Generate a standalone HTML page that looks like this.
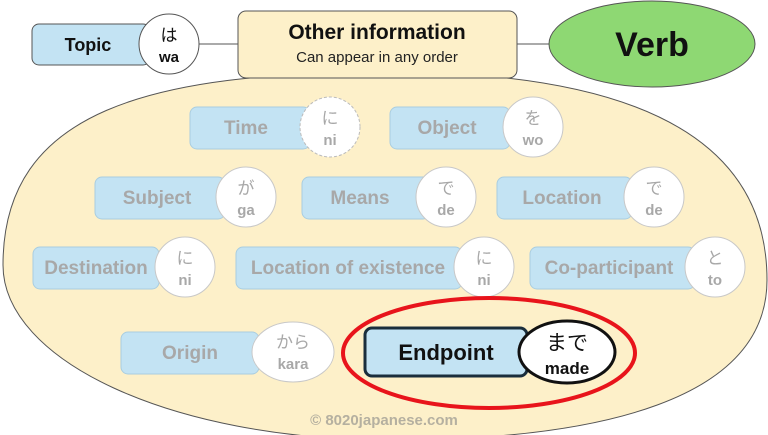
<!DOCTYPE html>
<html><head><meta charset="utf-8"><style>
html,body{margin:0;padding:0;background:#fff;}
svg{display:block;}
text{font-family:"Liberation Sans","Noto Sans CJK JP",sans-serif;text-anchor:middle;}
.b{fill:#c3e3f3;stroke:#a9cde0;stroke-width:1;}
.bt{fill:#a8a8a8;font-weight:bold;font-size:19px;}
.c{fill:#fff;stroke:#c8c8c8;stroke-width:1;}
.cj{fill:#a8a8a8;font-size:17px;}
.cr{fill:#a8a8a8;font-size:15px;font-weight:bold;}
</style></head><body>
<svg width="768" height="435" viewBox="0 0 768 435" xmlns="http://www.w3.org/2000/svg">
<path d="M3,265 C3,110 150,72 390,72 C620,72 767,130 767,280 C767,400 600,440 390,440 C170,440 3,360 3,265 Z" fill="#fdf0c9" stroke="#555" stroke-width="1"/>
<line x1="198" y1="44" x2="240" y2="44" stroke="#555"/>
<line x1="515" y1="44" x2="552" y2="44" stroke="#555"/>
<rect x="32" y="24" width="118" height="41" rx="7" fill="#c3e3f3" stroke="#555"/>
<text x="88" y="51" font-size="18" font-weight="bold" fill="#111">Topic</text>
<ellipse cx="169" cy="44" rx="30" ry="30" fill="#fff" stroke="#555"/>
<text x="169" y="41" font-size="17" fill="#111">は</text>
<text x="169" y="62" font-size="15" font-weight="bold" fill="#111">wa</text>
<rect x="238" y="11" width="279" height="67" rx="8" fill="#fdf0c9" stroke="#555"/>
<text x="377" y="39" font-size="21" font-weight="bold" fill="#111">Other information</text>
<text x="377" y="62" font-size="15" fill="#222">Can appear in any order</text>
<ellipse cx="652" cy="44" rx="103" ry="43" fill="#8ed873" stroke="#555"/>
<text x="652" y="56" font-size="34" font-weight="bold" fill="#111">Verb</text>

<rect class="b" x="190" y="107" width="120" height="42" rx="7"/><text class="bt" x="246" y="134">Time</text>
<circle cx="330" cy="127" r="30" fill="#fff" stroke="#bbb" stroke-dasharray="3,2"/><text class="cj" x="330" y="124">に</text><text class="cr" x="330" y="145">ni</text>
<rect class="b" x="390" y="107" width="120" height="42" rx="7"/><text class="bt" x="447" y="134">Object</text>
<circle class="c" cx="533" cy="127" r="30"/><text class="cj" x="533" y="124">を</text><text class="cr" x="533" y="145">wo</text>

<rect class="b" x="95" y="177" width="130" height="42" rx="7"/><text class="bt" x="157" y="204">Subject</text>
<circle class="c" cx="246" cy="197" r="30"/><text class="cj" x="246" y="194">が</text><text class="cr" x="246" y="215">ga</text>
<rect class="b" x="302" y="177" width="128" height="42" rx="7"/><text class="bt" x="360" y="204">Means</text>
<circle class="c" cx="446" cy="197" r="30"/><text class="cj" x="446" y="194">で</text><text class="cr" x="446" y="215">de</text>
<rect class="b" x="497" y="177" width="135" height="42" rx="7"/><text class="bt" x="562" y="204">Location</text>
<circle class="c" cx="654" cy="197" r="30"/><text class="cj" x="654" y="194">で</text><text class="cr" x="654" y="215">de</text>

<rect class="b" x="33" y="247" width="126" height="42" rx="7"/><text class="bt" x="96" y="274">Destination</text>
<circle class="c" cx="185" cy="267" r="30"/><text class="cj" x="185" y="264">に</text><text class="cr" x="185" y="285">ni</text>
<rect class="b" x="236" y="247" width="226" height="42" rx="7"/><text class="bt" x="348" y="274">Location of existence</text>
<circle class="c" cx="484" cy="267" r="30"/><text class="cj" x="484" y="264">に</text><text class="cr" x="484" y="285">ni</text>
<rect class="b" x="530" y="247" width="165" height="42" rx="7"/><text class="bt" x="609" y="274">Co-participant</text>
<circle class="c" cx="715" cy="267" r="30"/><text class="cj" x="715" y="264">と</text><text class="cr" x="715" y="285">to</text>

<rect class="b" x="121" y="332" width="138" height="42" rx="7"/><text class="bt" x="190" y="359">Origin</text>
<ellipse class="c" cx="293" cy="352" rx="41" ry="30"/><text class="cj" x="293" y="348">から</text><text class="cr" x="293" y="369">kara</text>

<ellipse cx="489" cy="353" rx="146" ry="55" fill="none" stroke="#e8141b" stroke-width="4"/>
<rect x="365" y="328" width="162" height="48" rx="7" fill="#c3e3f3" stroke="#1a2e3c" stroke-width="3"/>
<text x="446" y="360" font-size="22" font-weight="bold" fill="#111">Endpoint</text>
<ellipse cx="567" cy="352" rx="48" ry="31" fill="#fff" stroke="#111" stroke-width="3"/>
<text x="567" y="350" font-size="21" fill="#111">まで</text>
<text x="567" y="374" font-size="17" font-weight="bold" fill="#111">made</text>

<text x="384" y="425" font-size="15" font-weight="bold" fill="#b5b0a0">© 8020japanese.com</text>
</svg>
</body></html>
